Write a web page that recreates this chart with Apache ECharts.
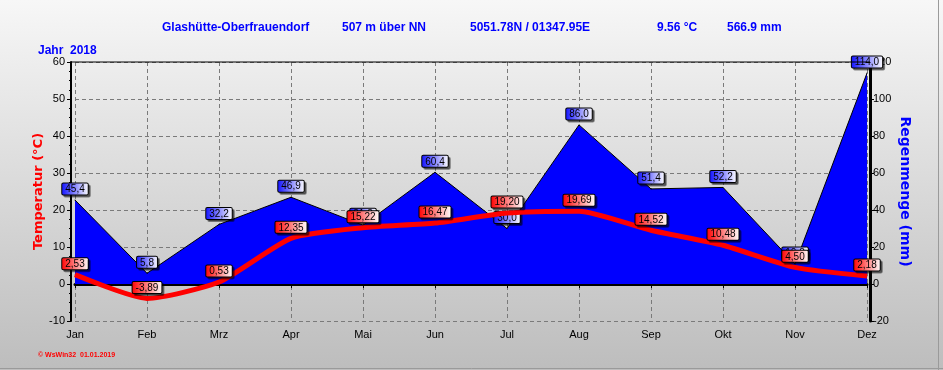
<!DOCTYPE html>
<html>
<head>
<meta charset="utf-8">
<script src="https://cdn.jsdelivr.net/npm/echarts@6/dist/echarts.min.js"></script>
<style>html,body{margin:0;padding:0;background:#fff;}#c{width:943px;height:370px;}</style>
</head>
<body>
<div id="c"></div>
<script>
const months = ['Jan','Feb','Mrz','Apr','Mai','Jun','Jul','Aug','Sep','Okt','Nov','Dez'];
const temperature = [2.53, -3.89, 0.53, 12.35, 15.22, 16.47, 19.20, 19.69, 14.52, 10.48, 4.50, 2.18];
const rainfall = [45.4, 5.8, 32.2, 46.9, 31.8, 60.4, 30.0, 86.0, 51.4, 52.2, 10.8, 114.0];
const tempTicks = {min: -10, max: 60, interval: 10};
const rainTicks = {min: -20, max: 120, interval: 20};
const headerTexts = [
  {text: 'Glashütte-Oberfrauendorf', left: 157},
  {text: '507 m über NN', left: 337},
  {text: '5051.78N / 01347.95E', left: 465},
  {text: '9.56 °C', left: 652},
  {text: '566.9 mm', left: 722}
];

const chart = echarts.init(document.getElementById('c'), null, {renderer: 'canvas'});
const fontF = 'Liberation Sans, Arial, sans-serif';
function grad(c) {
  return {type: 'linear', x: 0, y: 0, x2: 1, y2: 0, colorStops: [{offset: 0, color: c}, {offset: 1, color: '#ffffff'}]};
}
const labelBase = {
  show: true, position: 'top', distance: 5,
  color: '#000', fontFamily: fontF, fontSize: 10,
  borderColor: '#000', borderWidth: 1, padding: [1, 3, 0, 3], borderRadius: 1,
  shadowColor: 'rgba(0,0,0,0.45)', shadowOffsetX: 2, shadowOffsetY: 2, shadowBlur: 0
};
const titles = headerTexts.map(h => ({
  text: h.text, left: h.left, top: 17,
  textStyle: {color: '#0000ff', fontSize: 12, fontWeight: 'bold', fontFamily: fontF}
}));
titles.push({text: 'Jahr  2018', left: 33, top: 40, textStyle: {color: '#0000ff', fontSize: 12, fontWeight: 'bold', fontFamily: fontF}});
titles.push({text: '© WsWin32  01.01.2019', left: 33, top: 347, textStyle: {color: '#ff0000', fontSize: 7, fontWeight: 'bold', fontFamily: fontF}});

const option = {
  animation: false,
  backgroundColor: {type: 'linear', x: 0, y: 0, x2: 0, y2: 1, colorStops: [{offset: 0, color: '#f7f7f7'}, {offset: 1, color: '#bdbdbd'}]},
  title: titles,
  grid: {left: 75, right: 76, top: 62, bottom: 49, containLabel: false},
  xAxis: [{
    type: 'category', data: months, boundaryGap: false,
    axisLine: {show: true, lineStyle: {color: '#000', width: 3}},
    axisTick: {show: true, length: 4, lineStyle: {color: '#000'}, alignWithLabel: true},
    axisLabel: {color: '#000', fontSize: 11, fontFamily: fontF, margin: 8},
    splitLine: {show: true, interval: 0, lineStyle: {color: '#7a7a7a', type: [4, 3], width: 1}}
  }],
  yAxis: [{
    type: 'value', min: tempTicks.min, max: tempTicks.max, interval: tempTicks.interval, offset: 4,
    name: 'Temperatur (°C)', nameLocation: 'middle', nameGap: 26, nameRotate: 90, nameMoveOverlap: false,
    nameTextStyle: {color: '#ff0000', fontSize: 13, fontWeight: 'bold', fontFamily: 'DejaVu Sans, sans-serif'},
    axisLine: {show: true, lineStyle: {color: '#000', width: 2}},
    axisTick: {show: true, length: 4, lineStyle: {color: '#000'}},
    minorTick: {show: true, splitNumber: 4, length: 2, lineStyle: {color: '#000'}},
    axisLabel: {color: '#000', fontSize: 11, fontFamily: fontF, margin: 6},
    splitLine: {show: true, lineStyle: {color: '#7a7a7a', type: [4, 3], width: 1}}
  }, {
    type: 'value', min: rainTicks.min, max: rainTicks.max, interval: rainTicks.interval, offset: 3, position: 'right',
    name: 'Regenmenge (mm)', nameLocation: 'middle', nameGap: 28, nameRotate: -90, nameMoveOverlap: false,
    nameTextStyle: {color: '#0000ff', fontSize: 14, fontWeight: 'bold', fontFamily: 'DejaVu Sans, sans-serif'},
    axisLine: {show: true, lineStyle: {color: '#000', width: 3}},
    axisTick: {show: true, length: 4, lineStyle: {color: '#000'}},
    minorTick: {show: true, splitNumber: 4, length: 2, lineStyle: {color: '#000'}},
    axisLabel: {color: '#000', fontSize: 11, fontFamily: fontF, margin: 3},
    splitLine: {show: false}
  }],
  graphic: [
    {type: 'line', shape: {x1: 71, y1: 62, x2: 870, y2: 62}, style: {stroke: '#000', lineWidth: 1}, z: 10},
    {type: 'line', shape: {x1: 938.5, y1: 0, x2: 938.5, y2: 370}, style: {stroke: '#9a9a9a', lineWidth: 1}},
    {type: 'line', shape: {x1: 0, y1: 368.5, x2: 943, y2: 368.5}, style: {stroke: '#9a9a9a', lineWidth: 1}}
  ],
  series: [{
    name: 'Regen', type: 'line', yAxisIndex: 1, data: rainfall,
    symbol: 'circle', symbolSize: 1, itemStyle: {color: '#000'},
    lineStyle: {color: '#000', width: 1},
    areaStyle: {color: '#0000ff', opacity: 1},
    label: Object.assign({}, labelBase, {
      backgroundColor: grad('#1010ff'),
      formatter: p => p.value.toFixed(1).replace('.', ',')
    }),
    z: 2
  }, {
    name: 'Temperatur', type: 'line', yAxisIndex: 0, data: temperature,
    smooth: 0.2,
    symbol: 'circle', symbolSize: 1, itemStyle: {color: '#ff0000'},
    lineStyle: {color: '#ff0000', width: 5},
    label: Object.assign({}, labelBase, {
      backgroundColor: grad('#ff0000'),
      formatter: p => p.value.toFixed(2).replace('.', ',')
    }),
    z: 3
  }]
};
chart.setOption(option);
</script>
</body>
</html>
